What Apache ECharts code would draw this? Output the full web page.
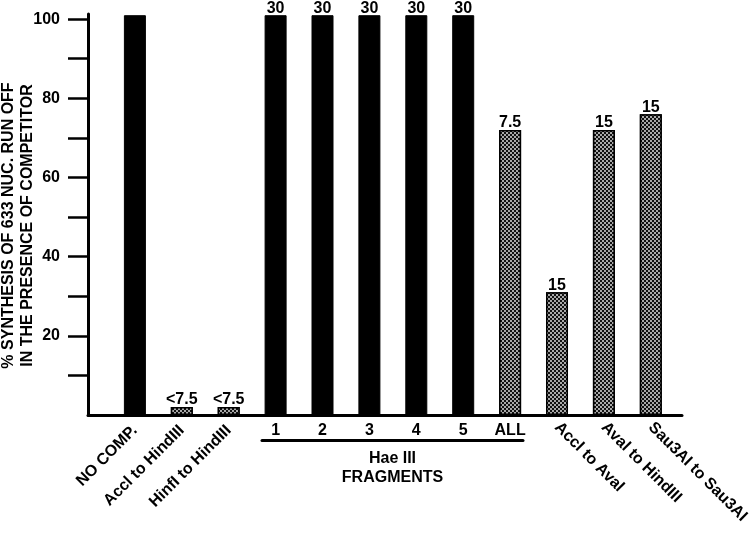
<!DOCTYPE html>
<html><head><meta charset="utf-8">
<script src="https://cdn.jsdelivr.net/npm/echarts@6/dist/echarts.min.js"></script>
<style>html,body{margin:0;padding:0;background:#fff}#c{width:750px;height:534px}</style>
</head><body><div id="c"></div>
<script>
const categories = ['NO COMP.', 'Accl to HindIII', 'HinfI to HindIII', '1', '2', '3', '4', '5', 'ALL', 'Accl to Aval', 'Aval to HindIII', 'Sau3AI to Sau3AI'];
const values = [101, 2, 2, 101, 101, 101, 101, 101, 72, 31, 72, 76];
const barLabels = ['', '<7.5', '<7.5', '30', '30', '30', '30', '30', '7.5', '15', '15', '15'];
const fillKinds = ['solid', 'stipple', 'stipple', 'solid', 'solid', 'solid', 'solid', 'solid', 'stipple', 'stipple', 'stipple', 'stipple'];
const labelGroups = ['left', 'left', 'left', 'mid', 'mid', 'mid', 'mid', 'mid', 'mid', 'right', 'right', 'right'];
const yTickValues = [10, 20, 30, 40, 50, 60, 70, 80, 90, 100];
const yLabelValues = [20, 40, 60, 80, 100];
const groupTitle = 'Hae III\nFRAGMENTS';
const yTitle = '% SYNTHESIS OF 633 NUC. RUN OFF\nIN THE PRESENCE OF COMPETITOR';

const FONT = '"Liberation Sans", Arial, Helvetica, sans-serif';
const stippleDecal = { symbol: 'rect', symbolSize: 0.85, dashArrayX: [[2, 2], [0, 2, 2, 0]], dashArrayY: [2, 0], color: '#ffffff' };

function labelFor(group) {
  return function (v) {
    const r = Math.round(v);
    if (Math.abs(v - r) > 1e-6) return '';
    const i = r - 1;
    if (i < 0 || i >= categories.length) return '';
    return labelGroups[i] === group ? categories[i] : '';
  };
}

const xBase = { type: 'value', gridIndex: 0, min: 0, max: 12.665, interval: 1, position: 'bottom',
  splitLine: { show: false }, axisTick: { show: false } };

const chart = echarts.init(document.getElementById('c'), null, { renderer: 'canvas' });
chart.setOption({
  animation: false,
  backgroundColor: '#ffffff',
  textStyle: { fontFamily: FONT },
  grid: [
    { left: 88, top: 14, right: 68, bottom: 119, containLabel: false, outerBoundsMode: 'none' },
    { left: 262, width: 261, top: 420, bottom: 94, containLabel: false, outerBoundsMode: 'none' }
  ],
  xAxis: [
    Object.assign({}, xBase, {
      axisLine: { show: true, onZero: false, lineStyle: { color: '#000', width: 3 } },
      axisLabel: { formatter: labelFor('left'), rotate: 45, margin: 13, padding: [6, 0, 0, 0], color: '#000', fontWeight: 'bold', fontSize: 16, fontFamily: FONT }
    }),
    Object.assign({}, xBase, {
      axisLine: { show: false },
      axisLabel: { formatter: labelFor('mid'), rotate: 0, margin: 8, color: '#000', fontWeight: 'bold', fontSize: 16, fontFamily: FONT }
    }),
    Object.assign({}, xBase, {
      axisLine: { show: false },
      axisLabel: { formatter: labelFor('right'), rotate: -45, margin: 10, padding: [17, 0, 0, 0], color: '#000', fontWeight: 'bold', fontSize: 16, fontFamily: FONT }
    }),
    { type: 'value', gridIndex: 1, min: 0, max: 1, position: 'bottom',
      axisLine: { show: true, onZero: false, lineStyle: { color: '#000', width: 3 } },
      axisTick: { show: false }, axisLabel: { show: false }, splitLine: { show: false },
      name: groupTitle, nameLocation: 'middle', nameGap: 9, nameMoveOverlap: false,
      nameTextStyle: { color: '#000', fontWeight: 'bold', fontSize: 16, lineHeight: 19, fontFamily: FONT } }
  ],
  yAxis: [
    { type: 'value', gridIndex: 0, min: 0, max: 101.3,
      axisLine: { show: true, lineStyle: { color: '#000', width: 3 } },
      axisTick: { show: true, inside: false, length: 20, lineStyle: { color: '#000', width: 2.5 }, customValues: yTickValues },
      axisLabel: { color: '#000', fontWeight: 'bold', fontSize: 16, margin: 28, fontFamily: FONT, customValues: yLabelValues },
      splitLine: { show: false },
      name: yTitle, nameLocation: 'middle', nameGap: 51, nameMoveOverlap: false,
      nameTextStyle: { color: '#000', fontWeight: 'bold', fontSize: 16, lineHeight: 19, fontFamily: FONT, padding: [0, 22, 0, 0] } },
    { type: 'value', gridIndex: 1, show: false, min: 0, max: 1 }
  ],
  series: [{
    type: 'bar',
    xAxisIndex: 0, yAxisIndex: 0,
    barWidth: 22,
    clip: false,
    data: values.map((v, i) => ({
      value: [i + 1, v],
      itemStyle: fillKinds[i] === 'solid'
        ? { color: '#000', borderColor: '#000', borderWidth: 1 }
        : { color: '#111', borderColor: '#000', borderWidth: 1.5, decal: stippleDecal },
      label: { show: barLabels[i] !== '', formatter: barLabels[i] }
    })),
    label: { position: 'top', distance: 1, lineHeight: 12, color: '#000', fontWeight: 'bold', fontSize: 16, fontFamily: FONT }
  }]
});
</script></body></html>
